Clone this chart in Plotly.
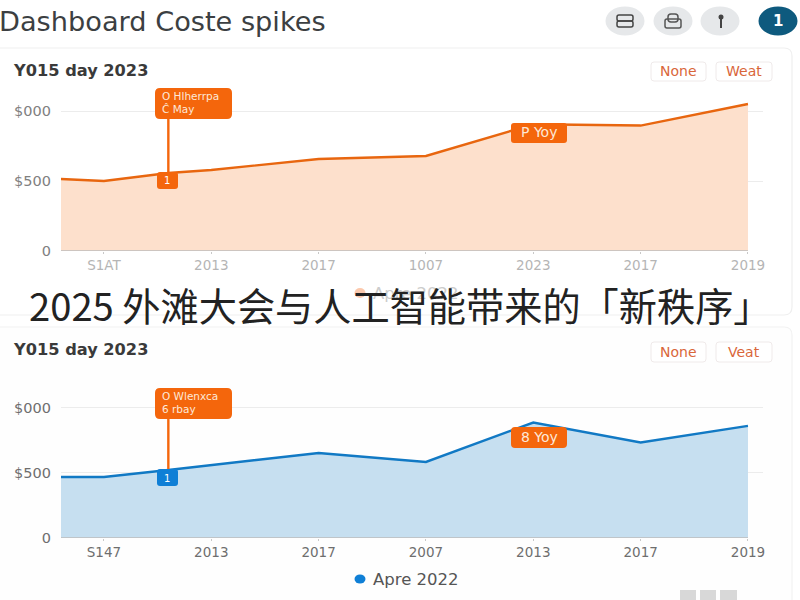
import plotly.graph_objects as go

W, H = 800, 600

# Shared axis positions and labels
positions = [-0.4, 0, 0.6, 1, 2, 3, 4, 5, 6]
tick_positions = [0, 1, 2, 3, 4, 5, 6]
top_ticks = ["S1AT", "2013", "2017", "1007", "2023", "2017", "2019"]
bottom_ticks = ["S147", "2013", "2017", "2007", "2013", "2017", "2019"]
y_ticks = [0, 500, 1000]
y_tick_labels = ["0", "$500", "$000"]

# Series values
top_values = [514, 500, 557, 579, 657, 679, 905, 896, 1050]
bottom_values = [469, 469, 523, 562, 654, 585, 888, 735, 862]

# Callout positions along the axis
callout_position = 0.6
top_callout_value = 1000
bottom_callout_value = 1010

ORANGE = "#f4660c"
TOP_LINE = "#e8660f"
TOP_FILL = "#fde0cc"
BLUE_LINE = "#1179c4"
BLUE_FILL = "#c6dff0"
FONT = "DejaVu Sans"


def px(x):
    return x / W


def py(y):
    return 1 - y / H


def rounded(x0, y0, x1, y1, r):
    return (
        f"M {px(x0 + r)} {py(y0)} L {px(x1 - r)} {py(y0)} "
        f"Q {px(x1)} {py(y0)} {px(x1)} {py(y0 + r)} L {px(x1)} {py(y1 - r)} "
        f"Q {px(x1)} {py(y1)} {px(x1 - r)} {py(y1)} L {px(x0 + r)} {py(y1)} "
        f"Q {px(x0)} {py(y1)} {px(x0)} {py(y1 - r)} L {px(x0)} {py(y0 + r)} "
        f"Q {px(x0)} {py(y0)} {px(x0 + r)} {py(y0)} Z"
    )


def box(x0, y0, x1, y1, r, fill, line="rgba(0,0,0,0)", width=1, layer="above"):
    return dict(
        type="path", xref="paper", yref="paper", path=rounded(x0, y0, x1, y1, r),
        fillcolor=fill, line=dict(color=line, width=width), layer=layer,
    )


def oval(cx, cy, rx, ry, fill):
    return dict(
        type="circle", xref="paper", yref="paper",
        x0=px(cx - rx), x1=px(cx + rx), y0=py(cy + ry), y1=py(cy - ry),
        fillcolor=fill, line=dict(width=0), layer="above",
    )


def stroke(x0, y0, x1, y1, color, width=1.5):
    return dict(
        type="line", xref="paper", yref="paper",
        x0=px(x0), x1=px(x1), y0=py(y0), y1=py(y1),
        line=dict(color=color, width=width), layer="above",
    )


def label(x, y, text, size, color, anchor="left", font=FONT):
    return dict(
        x=px(x), y=py(y), xref="paper", yref="paper", text=text, showarrow=False,
        xanchor=anchor, yanchor="middle", borderpad=0,
        font=dict(family=font, size=size, color=color),
    )


fig = go.Figure()


def add_panel(values, line_color, fill_color, xaxis, yaxis, callout_value):
    fig.add_trace(go.Scatter(
        x=positions, y=values, mode="lines", fill="tozeroy", fillcolor=fill_color,
        line=dict(color=line_color, width=2.4), xaxis=xaxis, yaxis=yaxis,
        hoverinfo="skip", showlegend=False,
    ))
    # Baseline stops at the last data point while the gridlines run on past it
    fig.add_trace(go.Scatter(
        x=[positions[0], positions[-1]], y=[0, 0], mode="lines",
        line=dict(color="#bdbdbd", width=1.5), xaxis=xaxis, yaxis=yaxis,
        hoverinfo="skip", showlegend=False,
    ))
    # Leader from the callout down to the marked point
    fig.add_trace(go.Scatter(
        x=[callout_position, callout_position],
        y=[values[positions.index(callout_position)], callout_value],
        mode="lines", line=dict(color=ORANGE, width=2.4), xaxis=xaxis, yaxis=yaxis,
        hoverinfo="skip", showlegend=False,
    ))


add_panel(top_values, TOP_LINE, TOP_FILL, "x", "y", top_callout_value)
add_panel(bottom_values, BLUE_LINE, BLUE_FILL, "x2", "y2", bottom_callout_value)

shapes = [
    # Header rule and the two cards
    box(-12, 48, 792, 315, 8, "rgba(0,0,0,0)", "#efefef", 1.2, "below"),
    box(-12, 327, 792, 640, 8, "#fefefe", "#f2f2f2", 1.2, "below"),
    # Header buttons
    oval(625, 21, 19.5, 14.5, "#e6e8ea"),
    oval(673, 21, 19.5, 14.5, "#e6e8ea"),
    oval(720, 21, 19.5, 14.5, "#e6e8ea"),
    oval(778, 21, 19.5, 14.5, "#0e5a7e"),
    box(617, 15, 633, 21, 2, "rgba(0,0,0,0)", "#444", 1.5),
    box(617, 21, 633, 27, 2, "rgba(0,0,0,0)", "#444", 1.5),
    box(665, 19, 681, 28, 2, "rgba(0,0,0,0)", "#555", 1.5),
    box(668, 14, 678, 22, 3, "rgba(0,0,0,0)", "#555", 1.5),
    stroke(721, 17, 721, 28, "#444", 2),
    oval(721, 17, 2.5, 2.5, "#444"),
    # Range toggles
    box(651, 62, 706, 81, 3, "#ffffff", "#efeaea"),
    box(716, 62, 772, 81, 3, "#ffffff", "#efeaea"),
    box(651, 342, 706, 362, 3, "#ffffff", "#efeaea"),
    box(716, 342, 772, 362, 3, "#ffffff", "#efeaea"),
    # Top panel callouts
    box(155, 88, 232, 119, 5, ORANGE),
    box(157, 172, 178, 189, 3, ORANGE),
    box(511, 123, 567, 143, 3, ORANGE),
    # Bottom panel callouts
    box(155, 388, 232, 419, 5, ORANGE),
    box(157, 469, 178, 486, 3, "#0f7fd6"),
    box(511, 427, 567, 448, 4, ORANGE),
    # Legend dots and footer squares
    oval(360, 293, 5.5, 5, "#fcc9ad"),
    oval(360, 579, 5.5, 4.5, "#0f7fd6"),
    box(680, 590, 696, 604, 0, "#d8d8d8"),
    box(700, 590, 716, 604, 0, "#d8d8d8"),
    box(720, 590, 737, 604, 0, "#d8d8d8"),
]

annotations = [
    label(-2, 22, "Dashboard Coste spikes", 27.2, "#3c3f42"),
    label(778, 21, "<b>1</b>", 15, "#ffffff", "center"),
    label(12, 70, "<b>Y015 day 2023</b>", 16.2, "#3a3a3a"),
    label(12, 349, "<b>Y015 day 2023</b>", 16.2, "#3a3a3a"),
    label(678, 71, "None", 14, "#d9663a", "center"),
    label(744, 71, "Weat", 14, "#d9663a", "center"),
    label(678, 352, "None", 14, "#d9663a", "center"),
    label(744, 352, "Veat", 14, "#d9663a", "center"),
    label(161, 96, "O Hlherrpa", 10.5, "#fde8d8"),
    label(161, 109, "Ĉ May", 10.5, "#fde8d8"),
    label(161, 396, "O Wlenxca", 10.5, "#fde8d8"),
    label(161, 409, "6 rbay", 10.5, "#fde8d8"),
    label(167, 180, "1", 10, "#ffffff", "center"),
    label(167, 478, "1", 10, "#ffffff", "center"),
    label(539, 132, "P Yoy", 14, "#fde8d8", "center"),
    label(539, 437, "8 Yoy", 14, "#fde8d8", "center"),
    label(372, 579, "Apre 2022", 16.5, "#555"),
    label(372, 293, "Apre 2022", 16.5, "#ccc"),
    label(28, 304, "2025 外滩大会与人工智能带来的「新秩序」", 38.2, "#222222",
          font="Noto Sans CJK SC"),
]

x_common = dict(
    range=[-0.4, 6.14], tickmode="array", tickvals=tick_positions, automargin=False,
    showgrid=False, zeroline=False, showline=False, ticks="outside", ticklen=2,
    tickcolor="#c8c8c8", domain=[px(61), px(763)],
)
y_common = dict(
    tickmode="array", tickvals=y_ticks, ticktext=y_tick_labels, gridcolor="#ececec",
    zeroline=False, showline=False, ticks="", ticklabelstandoff=9, automargin=False,
)

fig.update_layout(
    width=W, height=H, autosize=False, margin=dict(l=0, r=0, t=0, b=0),
    paper_bgcolor="#ffffff", plot_bgcolor="rgba(0,0,0,0)", showlegend=False,
    font=dict(family=FONT),
    xaxis=dict(
        **x_common, ticktext=top_ticks, anchor="y",
        tickfont=dict(size=13.5, color="#b5b5b5", family=FONT),
    ),
    yaxis=dict(
        **y_common, range=[0, 1150], domain=[py(251), py(90)], anchor="x",
        tickfont=dict(size=14.5, color="#808080", family=FONT),
    ),
    xaxis2=dict(
        **x_common, ticktext=bottom_ticks, anchor="y2",
        tickfont=dict(size=13.5, color="#6e6e6e", family=FONT),
    ),
    yaxis2=dict(
        **y_common, range=[0, 1138], domain=[py(538), py(390)], anchor="x2",
        tickfont=dict(size=14.5, color="#6e6e6e", family=FONT),
    ),
    shapes=shapes, annotations=annotations,
)

fig.write_html("out.html")
